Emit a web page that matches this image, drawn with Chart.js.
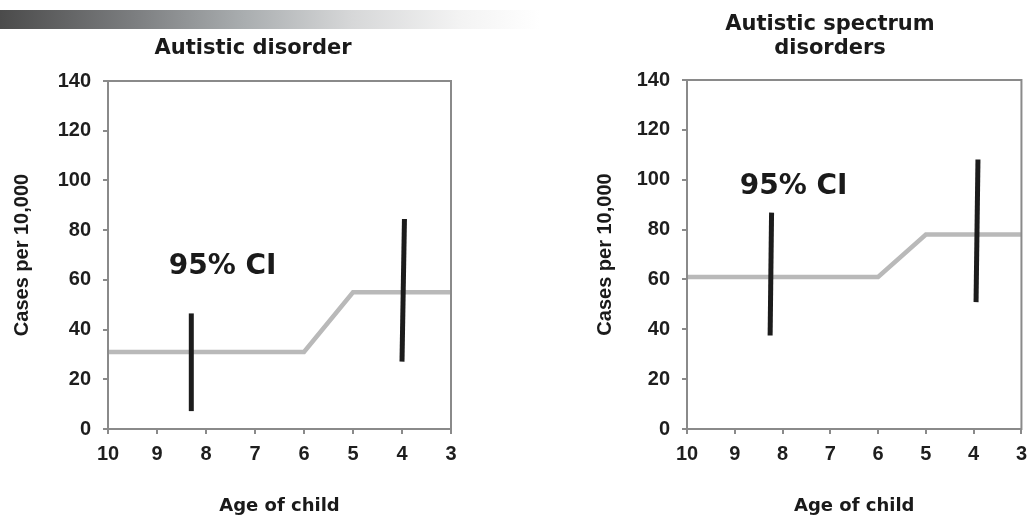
<!DOCTYPE html>
<html>
<head>
<meta charset="utf-8">
<script src="https://cdn.jsdelivr.net/npm/chart.js@4"></script>
<style>
  body{margin:0;background:#fff;width:1035px;height:520px;overflow:hidden;position:relative}
  .band{position:absolute;left:0;top:10px;width:540px;height:19px;
    background:linear-gradient(to right,#4b4b4b 0%,#7c7e80 25%,#a9adaf 45%,#d6d7d8 65%,#f3f3f3 85%,#fff 100%)}
  canvas{position:absolute;top:0}
</style>
</head>
<body>
<div class="band"></div>
<canvas id="left" width="517" height="520" style="left:0"></canvas>
<canvas id="right" width="518" height="520" style="left:517px"></canvas>
<script>
// step line: prevalence by age of child (x axis runs 10 -> 3)
const ages = [10, 6, 5, 3];
const autisticRate = [31, 31, 55, 55];
const spectrumRate = [61, 61, 78, 78];

// 95% CI bars (top / bottom ends, bars lean a little)
const autCiTopAge = [8.3, 3.95];
const autCiBotAge = [8.3, 4.0];
const autCiHigh = [46.5, 84.5];
const autCiLow = [7.2, 27.1];

const spcCiTopAge = [8.23, 3.91];
const spcCiBotAge = [8.26, 3.95];
const spcCiHigh = [86.8, 108.1];
const spcCiLow = [37.5, 50.9];

// where the "95% CI" note sits, in data units
const autLabel = [7.66, 65.2];
const spcLabel = [7.77, 97.1];

const yTicks = [0, 20, 40, 60, 80, 100, 120, 140];

Chart.defaults.font.family = "'Liberation Sans', Arial, sans-serif";
Chart.defaults.font.weight = 'bold';
Chart.defaults.color = '#1e1e1e';

const AXIS = '#8a8a8a';

// frame, panel title and CI note
const decor = {
  id: 'decor',
  afterDraw(chart, args, o) {
    const {ctx, chartArea: a, scales: {x, y}} = chart;
    ctx.save();
    ctx.strokeStyle = AXIS;
    ctx.lineWidth = 2;
    ctx.strokeRect(a.left, a.top, a.right - a.left, a.bottom - a.top);
    ctx.fillStyle = '#1a1a1a';
    ctx.textAlign = 'center';
    ctx.textBaseline = 'alphabetic';
    ctx.font = "bold 21px 'DejaVu Sans'";
    const n = o.title.length;
    o.title.forEach((t, i) => ctx.fillText(t, o.titleX, o.titleY - (n - 1 - i) * 24));
    ctx.font = "bold 28px 'DejaVu Sans'";
    ctx.textBaseline = 'middle';
    ctx.fillText('95% CI', x.getPixelForValue(o.note[0]), y.getPixelForValue(o.note[1]));
    ctx.restore();
  }
};

function ciSets(topAge, botAge, high, low) {
  return high.map((h, i) => ({
    data: [{x: botAge[i], y: low[i]}, {x: topAge[i], y: h}],
    borderColor: '#1c1c1c',
    borderWidth: 5,
    pointRadius: 0
  }));
}

function makeChart(id, rate, ci, note, title, titleX, pad, yWidth) {
  new Chart(document.getElementById(id), {
    type: 'line',
    data: {
      datasets: [
        ...ci,
        {
          data: ages.map((a, i) => ({x: a, y: rate[i]})),
          borderColor: '#b9b9b9',
          borderWidth: 4.5,
          pointRadius: 0
        }
      ]
    },
    plugins: [decor],
    options: {
      responsive: false,
      animation: false,
      layout: {padding: pad},
      plugins: {
        legend: {display: false},
        tooltip: {enabled: false},
        decor: {title, titleX, titleY: 54, note}
      },
      scales: {
        x: {
          type: 'linear',
          reverse: true,
          min: 3, max: 10,
          ticks: {stepSize: 1, padding: 8, font: {size: 20}},
          grid: {drawOnChartArea: false, tickLength: 5, color: AXIS, lineWidth: 2},
          border: {color: AXIS, width: 2},
          title: {display: true, text: 'Age of child', color: '#1a1a1a',
                  font: {family: "'DejaVu Sans'", size: 18, weight: 'bold'},
                  padding: {top: 0, bottom: 3}},
          afterFit: s => { s.height = 91; }
        },
        y: {
          min: 0, max: 140,
          afterBuildTicks: s => { s.ticks = yTicks.map(v => ({value: v})); },
          ticks: {padding: 12, font: {size: 20}},
          grid: {drawOnChartArea: false, tickLength: 5, color: AXIS, lineWidth: 2},
          border: {color: AXIS, width: 2},
          title: {display: true, text: 'Cases per 10,000', color: '#1a1a1a',
                  font: {size: 20, weight: 'bold'}, padding: {top: 10, bottom: 0}},
          afterFit: s => { s.width = yWidth; }
        }
      }
    }
  });
}

makeChart('left', autisticRate,
  ciSets(autCiTopAge, autCiBotAge, autCiHigh, autCiLow),
  autLabel, ['Autistic disorder'], 253,
  {left: 0, right: 66, top: 81, bottom: 0}, 108);

makeChart('right', spectrumRate,
  ciSets(spcCiTopAge, spcCiBotAge, spcCiHigh, spcCiLow),
  spcLabel, ['Autistic spectrum', 'disorders'], 313,
  {left: 66, right: 6, top: 80, bottom: 0}, 104);
</script>
</body>
</html>
